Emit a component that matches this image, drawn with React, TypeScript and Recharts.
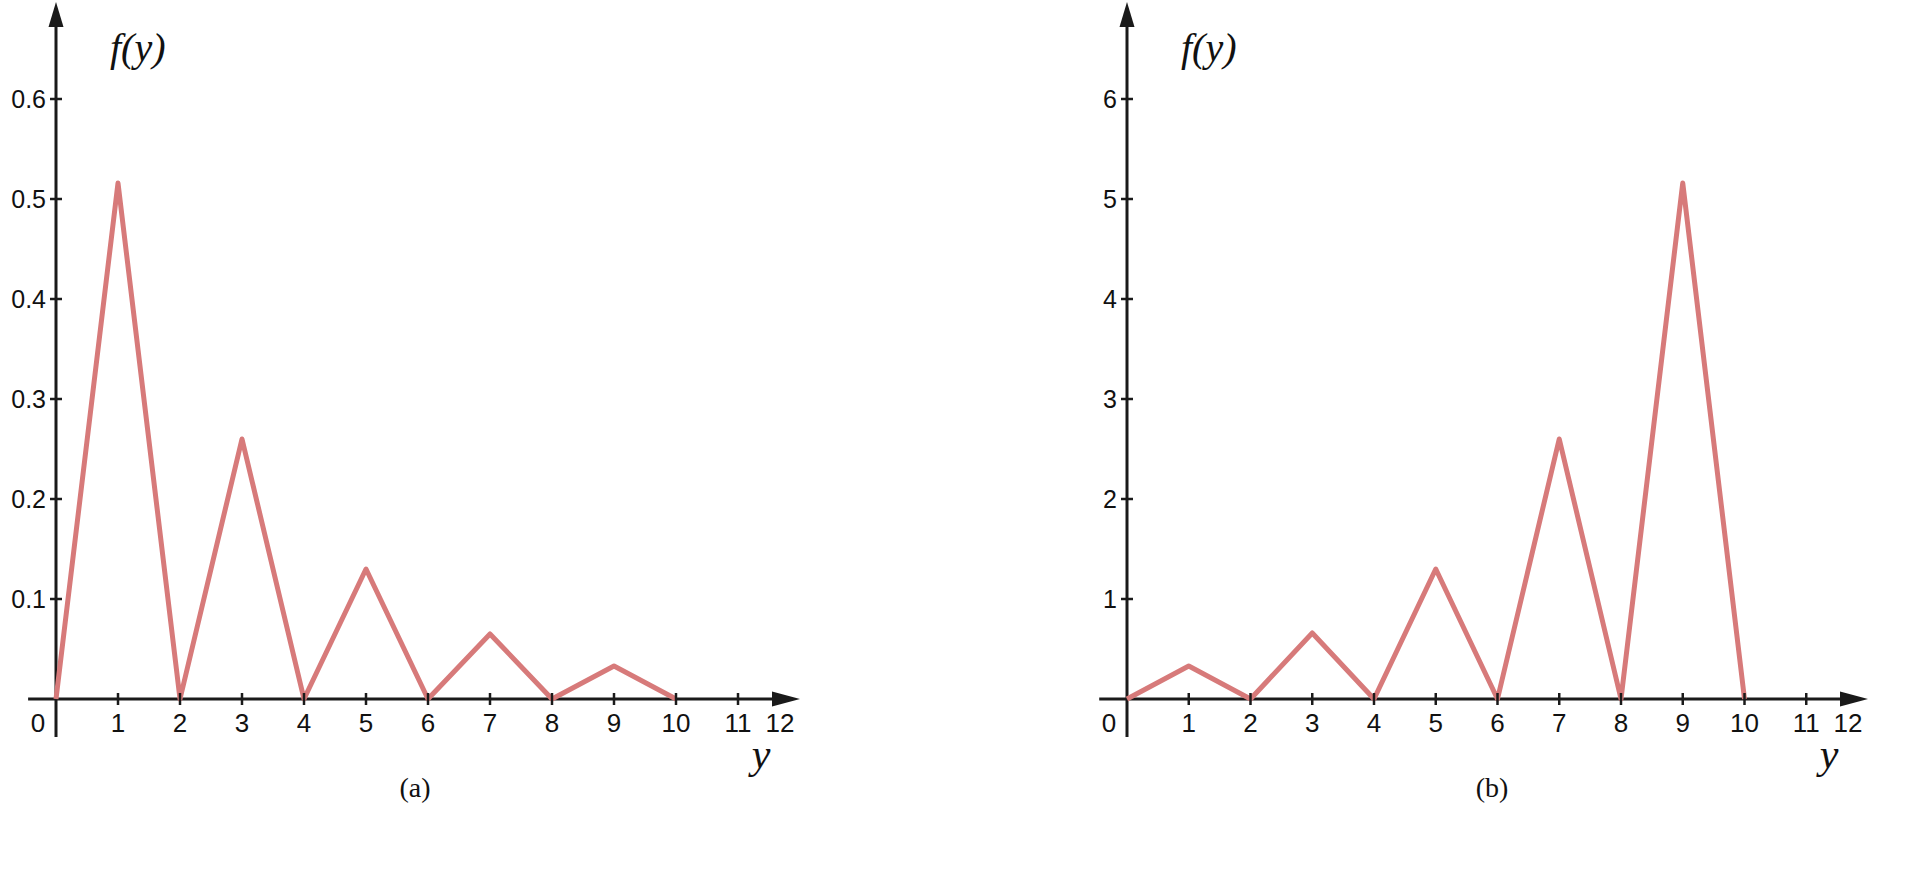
import React from 'react'
import {
  LineChart,
  Line,
  XAxis,
  YAxis,
  ReferenceLine,
  ReferenceDot,
} from 'recharts'

// values
const yValues = [0, 1, 2, 3, 4, 5, 6, 7, 8, 9, 10]
const densityA = [0, 0.516, 0, 0.26, 0, 0.13, 0, 0.065, 0, 0.033, 0]
const densityB = [0, 0.33, 0, 0.66, 0, 1.3, 0, 2.6, 0, 5.16, 0]
const xTicks = [0, 1, 2, 3, 4, 5, 6, 7, 8, 9, 10, 11, 12]
const yTicksA = [0.1, 0.2, 0.3, 0.4, 0.5, 0.6]
const yTicksB = [1, 2, 3, 4, 5, 6]

const LINE = '#d77a7a'
const AXIS = '#1a1a1a'
const SANS = '"Liberation Sans", Arial, sans-serif'
const SERIF = '"Liberation Serif", "Times New Roman", serif'

const XTick = (props: any) => {
  const { x, y, payload } = props
  const v = payload.value
  let lx = x
  if (v === 0) lx = x - 18
  if (v === 12) lx = x - 20
  return (
    <g>
      {v !== 0 && v !== 12 && (
        <line x1={x} x2={x} y1={y - 6} y2={y + 6} stroke={AXIS} strokeWidth={2.5} />
      )}
      <text x={lx} y={y + 33} textAnchor="middle" fontFamily={SANS} fontSize={26} fill="#111">
        {v}
      </text>
    </g>
  )
}

const YTick = (props: any) => {
  const { x, y, payload } = props
  return (
    <g>
      <line x1={x - 6} x2={x + 6} y1={y} y2={y} stroke={AXIS} strokeWidth={2.5} />
      <text x={x - 10} y={y + 9} textAnchor="end" fontFamily={SANS} fontSize={25} fill="#111">
        {payload.value}
      </text>
    </g>
  )
}

const ArrowRight = (props: any) => {
  const { cx, cy } = props
  return <polygon points={`${cx - 28},${cy - 7.5} ${cx},${cy} ${cx - 28},${cy + 7.5}`} fill={AXIS} />
}

const ArrowUp = (props: any) => {
  const { cx, cy } = props
  return <polygon points={`${cx - 7.5},${cy + 25} ${cx},${cy} ${cx + 7.5},${cy + 25}`} fill={AXIS} />
}

interface PanelProps {
  values: number[]
  yTicks: number[]
  yMax: number
  below: number
  left: number
  width: number
  yAxisWidth: number
  rightMargin: number
}

function Panel({ values, yTicks, yMax, below, left, width, yAxisWidth, rightMargin }: PanelProps) {
  const data = yValues.map((y, i) => ({ y, f: values[i] }))
  return (
    <div style={{ position: 'absolute', left, top: 0 }}>
      <LineChart
        width={width}
        height={884}
        data={data}
        margin={{ top: 2, right: rightMargin, left: 0, bottom: 125 }}
      >
        <XAxis
          type="number"
          dataKey="y"
          domain={[0, 12]}
          ticks={xTicks}
          interval={0}
          height={60}
          axisLine={false}
          tickLine={false}
          tickSize={0}
          tickMargin={0}
          tick={<XTick />}
        />
        <YAxis
          type="number"
          domain={[0, yMax]}
          ticks={yTicks}
          interval={0}
          width={yAxisWidth}
          axisLine={false}
          tickLine={false}
          tickSize={0}
          tickMargin={0}
          tick={<YTick />}
        />
        <ReferenceLine
          segment={[{ x: -0.45, y: 0 }, { x: 11.6, y: 0 }]}
          stroke={AXIS}
          strokeWidth={3}
          ifOverflow="visible"
        />
        <ReferenceLine
          segment={[{ x: 0, y: -below }, { x: 0, y: yMax * 0.97 }]}
          stroke={AXIS}
          strokeWidth={3}
          ifOverflow="visible"
        />
        <ReferenceDot x={12} y={0} r={1} shape={<ArrowRight />} ifOverflow="visible" />
        <ReferenceDot x={0} y={yMax} r={1} shape={<ArrowUp />} ifOverflow="visible" />
        <Line
          type="linear"
          dataKey="f"
          stroke={LINE}
          strokeWidth={5}
          strokeLinejoin="round"
          dot={false}
          activeDot={false}
          isAnimationActive={false}
        />
      </LineChart>
    </div>
  )
}

export default function App() {
  return (
    <div style={{ position: 'absolute', left: 0, top: 0, width: 1914, height: 884, background: '#fff' }}>
      <Panel
        values={densityA}
        yTicks={yTicksA}
        yMax={0.697}
        below={0.038}
        left={0}
        width={860}
        yAxisWidth={56}
        rightMargin={60}
      />
      <Panel
        values={densityB}
        yTicks={yTicksB}
        yMax={6.97}
        below={0.38}
        left={1070}
        width={844}
        yAxisWidth={57}
        rightMargin={46}
      />
      <svg
        width={1914}
        height={884}
        style={{ position: 'absolute', left: 0, top: 0, pointerEvents: 'none' }}
      >
        <text x={110} y={61} fontFamily={SERIF} fontStyle="italic" fontSize={40} fill="#111">
          f(y)
        </text>
        <text x={1181} y={61} fontFamily={SERIF} fontStyle="italic" fontSize={40} fill="#111">
          f(y)
        </text>
        <text x={761} y={768} textAnchor="middle" fontFamily={SERIF} fontStyle="italic" fontSize={42} fill="#111">
          y
        </text>
        <text x={1829} y={768} textAnchor="middle" fontFamily={SERIF} fontStyle="italic" fontSize={42} fill="#111">
          y
        </text>
        <text x={415} y={797} textAnchor="middle" fontFamily={SERIF} fontSize={28} fill="#111">
          (a)
        </text>
        <text x={1492} y={797} textAnchor="middle" fontFamily={SERIF} fontSize={28} fill="#111">
          (b)
        </text>
      </svg>
    </div>
  )
}
